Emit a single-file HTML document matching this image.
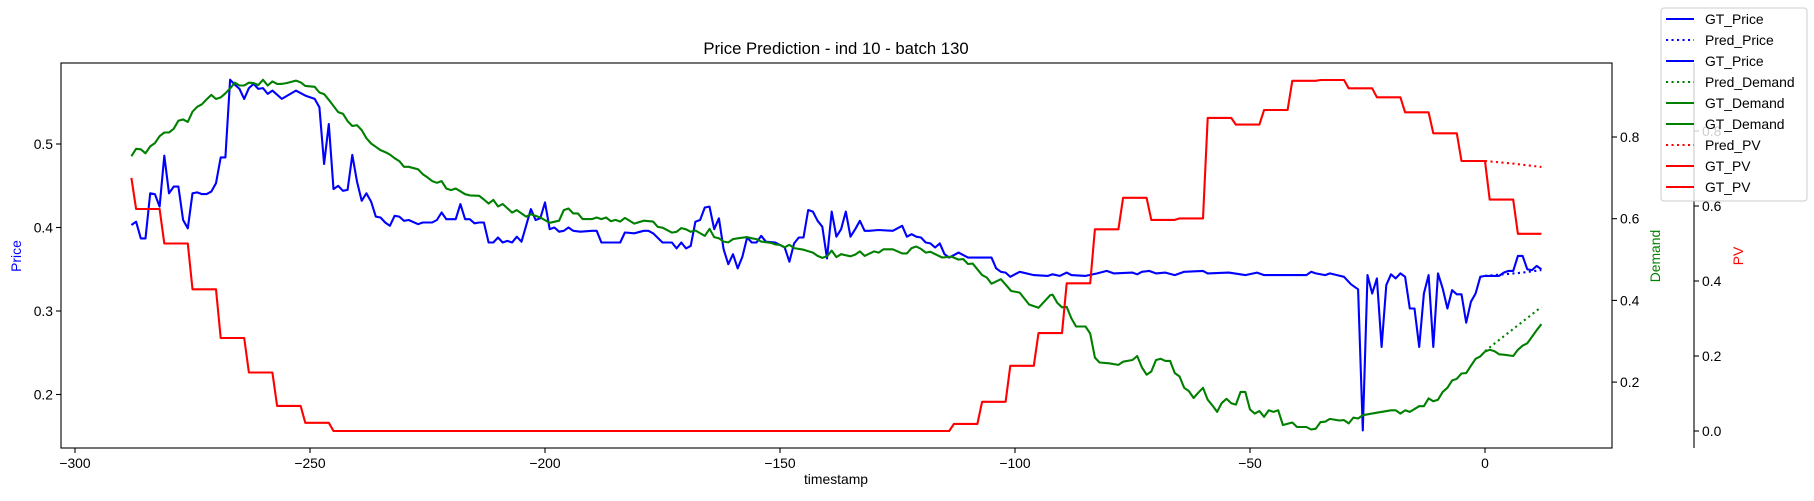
<!DOCTYPE html>
<html><head><meta charset="utf-8">
<style>
html,body{margin:0;padding:0;background:#fff;}
svg{display:block;font-family:"Liberation Sans","DejaVu Sans",sans-serif;}
</style></head>
<body>
<svg id="chart" width="1814" height="501" viewBox="0 0 1814 501" xmlns="http://www.w3.org/2000/svg">
<rect width="1814" height="501" fill="#fff"/>
<text x="836" y="54" font-size="16.7" text-anchor="middle">Price Prediction - ind 10 - batch 130</text>
<g id="plot"></g>
<g id="axes"></g>
</svg>
<script>
// ---- data ----
const xTicks = [-300,-250,-200,-150,-100,-50,0];
const priceTicks = [0.2,0.3,0.4,0.5];
const demandTicks = [0.2,0.4,0.6,0.8];
const pvTicks = [0.0,0.2,0.4,0.6,0.8];

const priceT = [-288,-287,-286,-285,-284,-283,-282,-281,-280,-279,-278,-277,-276,-275,-274,-273,-272,-271,-270,-269,-268,-267,-266,-265,-264,-263,-262,-261,-260,-259,-258,-257,-256,-253,-251,-249,-248,-247,-246,-245,-244,-243,-242,-241,-240,-239,-238,-237,-236,-235,-234,-233,-232,-231,-230,-229,-227,-226,-224,-223,-222,-221,-219,-218,-217,-216,-215,-214,-213,-212,-211,-210,-209,-208,-207,-206,-205,-203,-202,-201,-200,-199,-198,-197,-196,-195,-194,-192.5,-190,-189,-188,-184,-183,-181,-179,-178,-177,-175,-173,-172,-171,-170,-169,-168,-167,-166,-165,-164,-163,-162,-161,-160,-159,-158,-157,-156,-155,-154,-153,-151,-150,-149,-148,-147,-146,-145,-144,-143,-142,-141,-140,-139,-138,-137,-136,-135,-134,-133,-132,-131,-129,-126,-124,-123,-122,-121,-120,-119,-118,-117,-116,-115,-114,-112,-110,-105,-104,-103,-102,-101,-99,-96,-93,-92,-90.5,-89,-88,-85,-82.5,-80.5,-79,-75,-74,-73,-71.5,-70,-68,-66,-64,-60,-59,-54.5,-51,-48.5,-47,-38,-37,-36,-34,-33,-31.5,-30,-28.5,-27,-26,-25,-24,-23,-22,-21,-20,-19,-18,-17,-16,-15,-14,-13,-12,-11,-10,-9,-8,-7,-6,-5,-4,-3,-2,-1,0];
const priceV = [0.403,0.407,0.387,0.387,0.441,0.440,0.425,0.486,0.441,0.449,0.449,0.409,0.399,0.441,0.442,0.440,0.440,0.443,0.453,0.484,0.484,0.577,0.571,0.566,0.554,0.567,0.572,0.566,0.567,0.560,0.564,0.559,0.554,0.564,0.558,0.554,0.544,0.476,0.524,0.446,0.450,0.444,0.445,0.487,0.455,0.432,0.441,0.431,0.413,0.412,0.406,0.402,0.414,0.413,0.408,0.409,0.404,0.406,0.406,0.409,0.418,0.410,0.410,0.428,0.410,0.410,0.405,0.406,0.406,0.382,0.382,0.388,0.382,0.384,0.382,0.389,0.383,0.422,0.409,0.411,0.430,0.398,0.400,0.395,0.396,0.400,0.396,0.395,0.396,0.396,0.382,0.382,0.394,0.393,0.396,0.396,0.393,0.382,0.382,0.375,0.382,0.375,0.378,0.407,0.409,0.424,0.425,0.398,0.411,0.374,0.356,0.368,0.351,0.365,0.388,0.382,0.382,0.390,0.383,0.382,0.379,0.376,0.359,0.381,0.388,0.388,0.421,0.419,0.408,0.401,0.363,0.419,0.389,0.398,0.419,0.389,0.398,0.408,0.396,0.396,0.397,0.396,0.402,0.389,0.392,0.389,0.388,0.382,0.381,0.376,0.381,0.368,0.364,0.370,0.364,0.364,0.351,0.347,0.346,0.341,0.347,0.343,0.342,0.344,0.342,0.346,0.343,0.342,0.345,0.348,0.345,0.346,0.344,0.347,0.348,0.345,0.346,0.343,0.347,0.348,0.345,0.346,0.343,0.346,0.343,0.343,0.347,0.345,0.343,0.345,0.343,0.341,0.332,0.326,0.157,0.343,0.321,0.339,0.257,0.331,0.344,0.339,0.345,0.341,0.303,0.303,0.257,0.321,0.343,0.257,0.345,0.327,0.303,0.325,0.320,0.320,0.286,0.311,0.321,0.341,0.342];
const priceFutT = [0,1,3,4,5,6,7,8,9,10,11,12];
const priceFutV = [0.342,0.342,0.342,0.346,0.348,0.348,0.366,0.366,0.350,0.349,0.354,0.350];
const predPriceT = [0,4,8,12];
const predPriceV = [0.342,0.344,0.346,0.349];

const demandT = [-288,-287,-286,-285,-284,-283,-282,-281,-280,-279,-278,-277,-276,-275,-274,-273,-272,-271,-270,-269,-268,-267,-266,-265,-264,-263,-262,-261,-260,-259,-258,-257,-256,-255,-253,-252,-251,-249,-248,-247,-246,-245,-244,-243,-242,-241,-240,-239,-238,-237,-236,-235,-234,-233,-232,-231,-230,-229,-227,-226,-225,-224,-223,-222,-221,-220,-219,-218,-217,-216,-214,-213,-212,-211,-210,-209,-207,-206,-204,-203,-201,-199,-197,-196,-195,-194,-193,-192,-190,-189,-188,-187,-186,-185,-184,-183,-181,-179,-177,-176,-175,-173,-172,-171,-170,-169,-168,-166,-165,-164,-163,-162,-161,-160,-159,-157,-156,-155,-154,-152,-151,-150,-149,-148,-147,-145,-143,-142,-141,-140,-139,-138,-137,-135,-134,-133,-132,-130,-129,-128,-126,-124,-123,-122,-121,-120,-119,-118,-115.5,-113.5,-112,-111,-110,-109,-107,-106,-105,-103,-100.8,-99,-97,-95,-92.5,-92,-91,-90,-89,-88,-87,-85,-84,-83,-82,-80,-78,-77,-75,-74,-73,-72,-71,-70,-69,-68,-67,-66,-65,-64,-63,-62,-61,-60,-59,-58,-57,-56,-55,-54,-53,-52,-51,-50,-49,-48,-47,-46,-45,-44,-43,-41,-40,-38,-37,-36,-35,-34,-33,-31,-30,-29,-28,-27,-26,-23,-20,-19,-18,-17,-16,-14,-13,-12,-11,-10,-9,-8,-7,-6,-5,-4,-3,-2,-1,0];
const demandV = [0.753,0.771,0.770,0.760,0.777,0.785,0.802,0.811,0.811,0.820,0.840,0.843,0.837,0.862,0.874,0.880,0.892,0.903,0.893,0.897,0.907,0.919,0.933,0.926,0.926,0.933,0.932,0.927,0.940,0.926,0.936,0.930,0.930,0.932,0.938,0.934,0.925,0.923,0.909,0.905,0.891,0.876,0.861,0.857,0.839,0.827,0.829,0.817,0.797,0.784,0.776,0.768,0.763,0.757,0.748,0.741,0.727,0.727,0.721,0.709,0.701,0.692,0.688,0.692,0.674,0.670,0.674,0.667,0.660,0.657,0.656,0.647,0.637,0.646,0.630,0.636,0.615,0.621,0.605,0.611,0.603,0.590,0.595,0.621,0.625,0.613,0.613,0.599,0.599,0.603,0.599,0.603,0.594,0.597,0.593,0.602,0.588,0.595,0.593,0.580,0.578,0.566,0.568,0.577,0.574,0.568,0.571,0.558,0.575,0.555,0.552,0.544,0.542,0.550,0.552,0.555,0.552,0.550,0.544,0.541,0.537,0.536,0.530,0.536,0.528,0.524,0.517,0.509,0.504,0.508,0.522,0.506,0.513,0.508,0.512,0.520,0.509,0.520,0.517,0.525,0.525,0.515,0.515,0.528,0.532,0.526,0.517,0.519,0.505,0.507,0.500,0.501,0.489,0.490,0.462,0.456,0.441,0.452,0.423,0.419,0.390,0.382,0.413,0.414,0.394,0.383,0.384,0.356,0.336,0.336,0.319,0.260,0.248,0.246,0.242,0.250,0.254,0.264,0.236,0.218,0.226,0.254,0.257,0.252,0.252,0.222,0.214,0.186,0.178,0.161,0.174,0.186,0.157,0.143,0.127,0.149,0.159,0.148,0.145,0.176,0.176,0.133,0.123,0.129,0.115,0.131,0.127,0.131,0.095,0.101,0.090,0.090,0.084,0.086,0.102,0.103,0.110,0.106,0.107,0.099,0.113,0.111,0.119,0.125,0.131,0.131,0.123,0.131,0.127,0.141,0.141,0.160,0.153,0.157,0.176,0.186,0.204,0.208,0.221,0.222,0.240,0.257,0.263,0.275];
const demandFutT = [0,1,2,3,4,6,7,8,9,10,11,12];
const demandFutV = [0.275,0.279,0.276,0.268,0.267,0.264,0.279,0.289,0.295,0.311,0.327,0.342];
const predDemandT = [0,3,6,9,12];
const predDemandV = [0.276,0.303,0.330,0.357,0.384];

const pvT = [-288,-287,-282,-281,-276,-275,-270,-269,-264,-263,-258,-257,-252,-251,-246,-245,-114,-113,-108,-107,-102,-101,-96,-95,-90,-89,-84,-83,-78,-77,-72,-71,-66,-65,-60,-59,-54,-53,-48,-47,-42,-41,-36,-35,-30,-29,-24,-23,-18,-17,-12,-11,-6,-5,0];
const pvV = [0.675,0.592,0.592,0.5,0.5,0.378,0.378,0.248,0.248,0.156,0.156,0.067,0.067,0.022,0.022,0,0,0.019,0.019,0.078,0.078,0.174,0.174,0.261,0.261,0.394,0.394,0.538,0.538,0.622,0.622,0.563,0.563,0.567,0.567,0.835,0.835,0.817,0.817,0.856,0.856,0.934,0.934,0.936,0.936,0.914,0.914,0.89,0.89,0.85,0.85,0.794,0.794,0.72,0.72];
const pvFutT = [0,1,6,7,12];
const pvFutV = [0.72,0.617,0.617,0.526,0.526];
const predPvT = [0,6,12];
const predPvV = [0.72,0.713,0.704];

// ---- axis functions ----
const L=61,R=1612,T=63,B=448;
const X = t => 1485 + 4.70*t;
const YP = p => 144 + (0.5-p)*835;
const YD = d => 137 + (0.8-d)*408.5;
const YV = v => 431 - v*375;
const NS='http://www.w3.org/2000/svg';
const plot=document.getElementById('plot'), axes=document.getElementById('axes');
function mk(tag,attrs,parent){const e=document.createElementNS(NS,tag);for(const k in attrs)e.setAttribute(k,attrs[k]);parent.appendChild(e);return e;}
function line(ts,vs,yf,color,dotted,name){
  const pts=ts.map((t,i)=>X(t).toFixed(1)+','+yf(vs[i]).toFixed(1)).join(' ');
  const e=mk('polyline',{points:pts,fill:'none',stroke:color,'stroke-width':2.1,'stroke-linejoin':'round'},plot);
  if(dotted){e.setAttribute('stroke-dasharray','2.1,3.4');}
  
  
}
line(priceT,priceV,YP,'#0000ff',false,'gt-price-line');
line(predPriceT,predPriceV,YP,'#0000ff',true,'pred-price-line');
line(priceFutT,priceFutV,YP,'#0000ff',false,'gt-price-future-line');
line(predDemandT,predDemandV,YD,'#008000',true,'pred-demand-line');
line(demandT,demandV,YD,'#008000',false,'gt-demand-line');
line(demandFutT,demandFutV,YD,'#008000',false,'gt-demand-future-line');
line(predPvT,predPvV,YV,'#ff0000',true,'pred-pv-line');
line(pvT,pvV,YV,'#ff0000',false,'gt-pv-line');
line(pvFutT,pvFutV,YV,'#ff0000',false,'gt-pv-future-line');

const fr=mk('rect',{x:L,y:T,width:R-L,height:B-T,fill:'none',stroke:'#000','stroke-width':1.1},axes);


function txt(x,y,s,anchor,size,color,name){
  const e=mk('text',{x:x,y:y,'font-size':size||13.9,'text-anchor':anchor||'middle',fill:color||'#000'},axes);
  e.textContent=s;
  
  
  return e;
}
xTicks.forEach(t=>{
  mk('line',{x1:X(t),x2:X(t),y1:B,y2:B+5,stroke:'#000','stroke-width':1.1},axes);
  txt(X(t),B+20,String(t).replace('-','\u2212'),'middle',13.9,'#000','x-tick-label');
});
priceTicks.forEach(p=>{
  mk('line',{x1:L-5,x2:L,y1:YP(p),y2:YP(p),stroke:'#000','stroke-width':1.1},axes);
  txt(L-8,YP(p)+5,p.toFixed(1),'end',13.9,'#000','price-tick-label');
});
demandTicks.forEach(d=>{
  mk('line',{x1:R,x2:R+5,y1:YD(d),y2:YD(d),stroke:'#000','stroke-width':1.1},axes);
  txt(R+8,YD(d)+5,d.toFixed(1),'start',13.9,'#000','demand-tick-label');
});
const pvs=mk('line',{x1:1694,x2:1694,y1:T,y2:B,stroke:'#000','stroke-width':1.1},axes);


pvTicks.forEach(v=>{
  mk('line',{x1:1694,x2:1699,y1:YV(v),y2:YV(v),stroke:'#000','stroke-width':1.1},axes);
  txt(1702,YV(v)+5,v.toFixed(1),'start',13.9,'#000','pv-tick-label');
});
txt(836,484,'timestamp','middle',13.9,'#000','x-axis-title');
const yl=txt(21,256,'Price','middle',13.9,'#0000ff','price-axis-title'); yl.setAttribute('transform','rotate(-90 21 256)');
const dl=txt(1660,256,'Demand','middle',13.9,'#008000','demand-axis-title'); dl.setAttribute('transform','rotate(-90 1660 256)');
const vl=txt(1743,256,'PV','middle',13.9,'#ff0000','pv-axis-title'); vl.setAttribute('transform','rotate(-90 1743 256)');

const lg=mk('g',{},axes);


mk('rect',{x:1661,y:8,width:146,height:193,rx:3,fill:'#fff','fill-opacity':0.8,stroke:'#ccc','stroke-width':1},lg);
const legNames=['GT_Price','Pred_Price','GT_Price','Pred_Demand','GT_Demand','GT_Demand','Pred_PV','GT_PV','GT_PV'];
const legColors=['#0000ff','#0000ff','#0000ff','#008000','#008000','#008000','#ff0000','#ff0000','#ff0000'];
const legDotted=[false,true,false,true,false,false,true,false,false];
legNames.forEach((n,i)=>{
  const y=19+i*21;
  const l=mk('line',{x1:1666,x2:1694,y1:y,y2:y,stroke:legColors[i],'stroke-width':2.1},lg);
  if(legDotted[i]) l.setAttribute('stroke-dasharray','2.1,3.4');
  const t=mk('text',{x:1705,y:y+5,'font-size':13.9},lg);
  t.textContent=n;
  
  
});
</script>
</body></html>
